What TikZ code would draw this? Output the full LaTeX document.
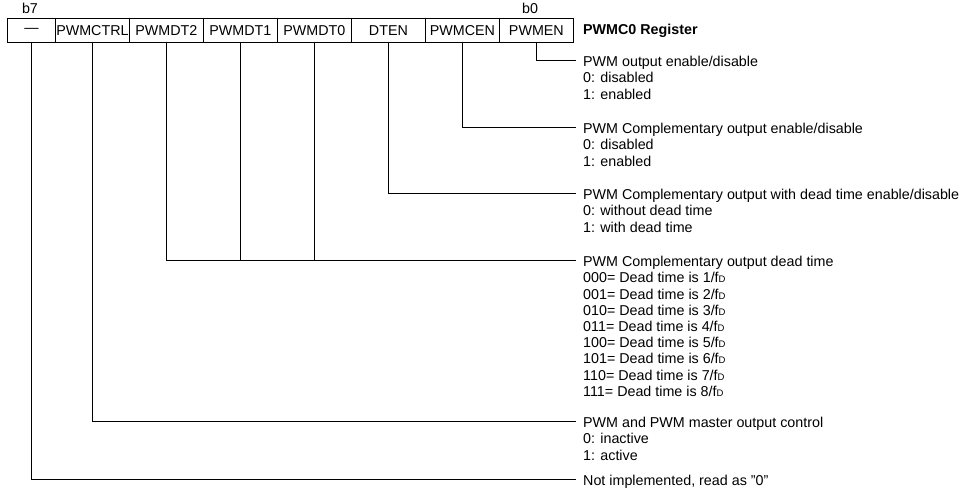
\documentclass[tikz,border=0pt]{standalone}
\usepackage{fontspec}
\setmainfont{Liberation Sans}
\newcommand\fdx{f{\fontsize{9.5}{10}\selectfont D}}
\begin{document}
\begin{tikzpicture}[x=1pt,y=-1pt, font=\fontsize{14.3}{16.2}\selectfont,
  bitbox/.style={draw, line width=0.8pt, minimum height=24pt, minimum width=74pt, inner sep=0pt, anchor=north west},
  ttl/.style={anchor=west, inner sep=0pt, text height=13pt, text depth=0pt},
  body/.style={anchor=north west, inner sep=0pt, align=left},
  conn/.style={line width=0.7pt}]
\path[use as bounding box] (0,0) rectangle (959,493);
% register
\node[bitbox, minimum width=48pt] (b7) at (7,18) {\textemdash};
\node[bitbox] (b6) at (55,18) {PWMCTRL};
\node[bitbox] (b5) at (129,18) {PWMDT2};
\node[bitbox] (b4) at (203,18) {PWMDT1};
\node[bitbox] (b3) at (277,18) {PWMDT0};
\node[bitbox] (b2) at (351,18) {DTEN};
\node[bitbox] (b1) at (425,18) {PWMCEN};
\node[bitbox] (b0) at (499,18) {PWMEN};
\node[inner sep=0pt] (lb7) at (30,8) {b7};
\node[inner sep=0pt] (lb0) at (530,8) {b0};
\node[anchor=west, inner sep=0pt, font=\fontsize{14.3}{16}\selectfont\bfseries] (reg) at (583,31) {PWMC0 Register};
% descriptions
\node[ttl] (t0) at (583,60) {PWM output enable/disable};
\node[body] (d0) at ([yshift=-11.3pt]t0.west) {\strut 0: disabled\\1: enabled};
\node[ttl] (t1) at (583,127) {PWM Complementary output enable/disable};
\node[body] (d1) at ([yshift=-11.3pt]t1.west) {\strut 0: disabled\\1: enabled};
\node[ttl] (t2) at (583,193) {PWM Complementary output with dead time enable/disable};
\node[body] (d2) at ([yshift=-11.3pt]t2.west) {\strut 0: without dead time\\1: with dead time};
\node[ttl] (t3) at (583,260) {PWM Complementary output dead time};
\node[body] (d3) at ([yshift=-11.3pt]t3.west) {\strut 000= Dead time is 1/\fdx\\001= Dead time is 2/\fdx\\010= Dead time is 3/\fdx\\011= Dead time is 4/\fdx\\100= Dead time is 5/\fdx\\101= Dead time is 6/\fdx\\110= Dead time is 7/\fdx\\111= Dead time is 8/\fdx};
\node[ttl] (t4) at (583,421) {PWM and PWM master output control};
\node[body] (d4) at ([yshift=-11.3pt]t4.west) {\strut 0: inactive\\1: active};
\node[ttl] (t5) at (583,479) {Not implemented, read as {\char34}0{\char34}};
% connectors
\draw[conn] (b0.south) |- ([xshift=-7pt]t0.west);
\draw[conn] (b1.south) |- ([xshift=-7pt]t1.west);
\draw[conn] (b2.south) |- ([xshift=-7pt]t2.west);
\draw[conn] (b5.south) |- ([xshift=-7pt]t3.west);
\draw[conn] (b4.south) -- (b4.south |- t3.west);
\draw[conn] (b3.south) -- (b3.south |- t3.west);
\draw[conn] (b6.south) |- ([xshift=-7pt]t4.west);
\draw[conn] (b7.south) |- ([xshift=-7pt]t5.west);
\end{tikzpicture}
\end{document}
